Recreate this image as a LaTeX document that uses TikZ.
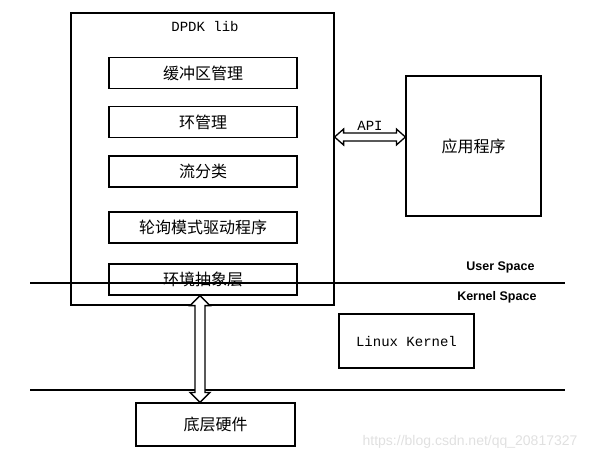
\documentclass[tikz,border=0pt]{standalone}
\usepackage{fontspec}
\setmonofont{Liberation Mono}
\setsansfont{Liberation Sans}
\newfontfamily\cjk{Noto Sans CJK SC}
\usetikzlibrary{calc}
\tikzset{
  box/.style={draw, line width=1.2pt, inner sep=0pt},
  cn/.style={font=\cjk\fontsize{16}{16}\selectfont},
  en/.style={font=\ttfamily\fontsize{14}{14}\selectfont},
  space/.style={font=\sffamily\bfseries\fontsize{12.5}{12.5}\selectfont, anchor=east},
  hollow/.style={line width=1.3pt, line join=miter, fill=white},
}
\begin{document}
\begin{tikzpicture}[x=1pt,y=-1pt]
			\useasboundingbox (0,0) rectangle (591,461);
			% DPDK lib and its parts
			\node[box, minimum width=263pt, minimum height=292pt] (lib) at (202.5,159) {};
			\node[en] (title) at (205,26) {DPDK lib};
			\node[box, cn, minimum width=188pt, minimum height=31pt] (buf) at (203,73) {缓冲区管理};
			\node[box, cn, minimum width=188pt, minimum height=31pt] (ring) at (203,122) {环管理};
			\node[box, cn, minimum width=188pt, minimum height=31pt] (flow) at (203,171.5) {流分类};
			\node[box, cn, minimum width=188pt, minimum height=31pt] (pmd) at (203,227.5) {轮询模式驱动程序};
			\node[box, cn, minimum width=188pt, minimum height=31pt] (eal) at (203,279.5) {环境抽象层};
			% other boxes
			\node[box, cn, minimum width=135pt, minimum height=140pt] (app) at (473.5,146) {应用程序};
			\node[box, en, minimum width=135pt, minimum height=54pt] (kernel) at (406.5,341) {Linux Kernel};
			\node[box, cn, minimum width=159pt, minimum height=43pt] (hw) at (215.5,424.5) {底层硬件};
			% space borders
			\coordinate (ul) at (30,283);
			\coordinate (ur) at (565,283);
			\coordinate (ll) at (30,390);
			\coordinate (lr) at (565,390);
			\draw[line width=1.2pt] (ul) -- (ur);
			\draw[line width=1.2pt] (ll) -- (lr);
			\node[space] (user) at (538,267) {User Space};
			\node[space] (kspace) at (540,297) {Kernel Space};
			% API arrow
			\coordinate (apiy) at (0,137);
			\coordinate (a1) at (lib.east |- apiy);
			\coordinate (a2) at (app.west |- apiy);
			\draw[hollow] (a1) -- ++(9,-8) -- ++(0,4) -- ($(a2)+(-9,-4)$) -- ++(0,-4)
				-- (a2) -- ++(-9,8) -- ++(0,-4) -- ($(a1)+(9,4)$) -- ++(0,4) -- cycle;
			\node[en, above=3pt] (api) at ($(a1)!.5!(a2)$) {API};
			% EAL to hardware arrow
			\coordinate (halx) at (200,0);
			\coordinate (h1) at (eal.south -| halx);
			\coordinate (h2) at (hw.north -| halx);
			\draw[hollow] (h1) -- ++(10,10) -- ++(-5,0) -- ($(h2)+(5,-10)$) -- ++(5,0)
				-- (h2) -- ++(-10,-10) -- ++(5,0) -- ($(h1)+(-5,10)$) -- ++(-5,0) -- cycle;
			\node[font=\sffamily\fontsize{14}{14}\selectfont, text=black!12, anchor=east] (mark) at (581,442) {https://blog.csdn.net/qq\_20817327};
\end{tikzpicture}
\end{document}
